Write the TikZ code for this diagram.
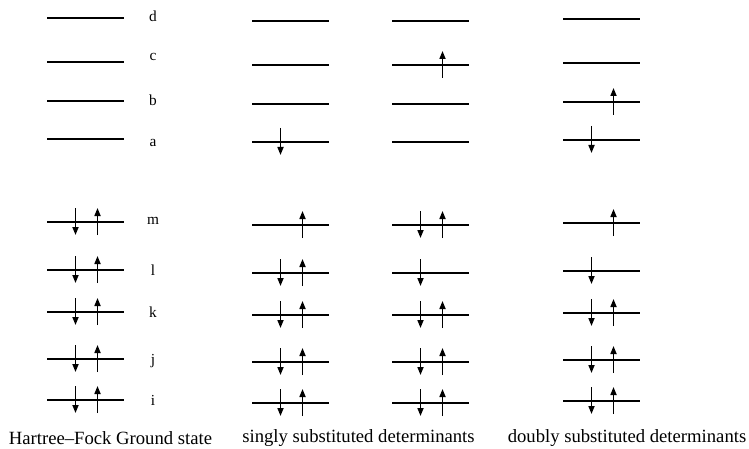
\documentclass[tikz,border=0pt]{standalone}
\usepackage{fontspec}
\setmainfont{Liberation Serif}
\usetikzlibrary{arrows.meta}
\tikzset{orbsec/.style={x=0.75pt,y=-0.75pt},
  level/.style={line width=1.3pt},
  spin/.style={line width=1.2pt,-{Triangle[length=6pt,width=4.5pt]}},
  orblabel/.style={font=\fontsize{11.5}{13}\selectfont},
  caption/.style={font=\fontsize{14}{16}\selectfont}}
% one orbital level: left x, y, occupation (0 empty, 1 up, 2 down, 3 both)
\newcommand{\orbital}[3]{%
  \draw[level] ({#1},{#2}) -- ++(77,0);
  \ifodd#3 \draw[spin] ({#1+50.5},{#2+13}) -- ++(0,-27);\fi
  \ifnum#3>1 \draw[spin] ({#1+28.5},{#2-14}) -- ++(0,27);\fi}

\begin{document}
\begin{tikzpicture}[orbsec]
    \useasboundingbox (0,0) rectangle (749,449);
    % levels d c b a m l k j i, occupation per column
    \foreach \ly/\a/\b/\c/\d in {18/0/0/0/0, 62/0/0/1/0, 101/0/0/0/1, 139/0/2/0/2,
        222/3/1/3/1, 270/3/3/2/2, 312/3/3/3/3, 359/3/3/3/3, 400/3/3/3/3} {
      \orbital{47}{\ly}{\a}
      \orbital{252}{\ly+3}{\b}
      \orbital{392}{\ly+3}{\c}
      \orbital{563}{\ly+1}{\d}
    }
    \foreach \t/\ly in {d/16,c/57,b/100,a/143,m/221,l/270,k/312,j/361,i/400}
      \node[orblabel] (lbl-\t) at (153,\ly) {\t};
    \node[caption] (cap-hf) at (110.5,438) {Hartree\textendash Fock Ground state};
    \node[caption] (cap-single) at (358.5,438) {singly substituted determinants};
    \node[caption] (cap-double) at (627,438) {doubly substituted determinants};
  \end{tikzpicture}
\end{document}
